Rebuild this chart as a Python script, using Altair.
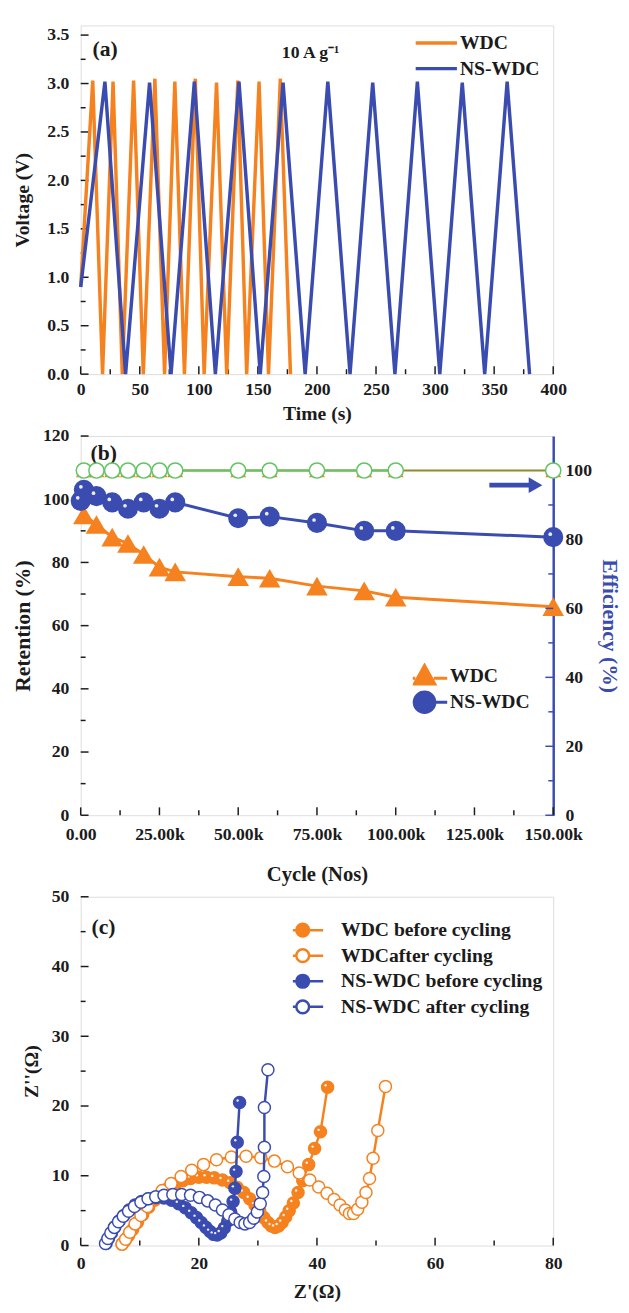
import altair as alt
import pandas as pd

FONT = "Liberation Serif"
INK = "#1b1b1b"
ORANGE = "#F5821F"
BLUE = "#3A4CB0"
GREEN = "#62C462"
OLIVE = "#8F8B2E"

# ---------------- (a) charge / discharge at 10 A g-1 ----------------
wdc_time = [0, 10.2, 18.5, 27.4, 35.2, 44.8, 53.0, 62.8, 71.0, 79.7, 87.8,
            97.0, 104.5, 115.0, 123.6, 133.0, 140.5, 151.0, 159.0, 169.0, 177.6]
wdc_volt = [0.9, 3.03, 0.0, 3.02, 0.0, 3.03, 0.0, 3.05, 0.0, 3.02, 0.0,
            3.05, 0.0, 3.01, 0.0, 3.03, 0.0, 3.02, 0.0, 3.05, 0.0]
ns_time = [0, 20.5, 38.0, 58.3, 76.5, 96.2, 114.0, 134.0, 152.0, 171.3, 190.0,
           209.2, 228.0, 247.2, 266.0, 285.0, 304.0, 323.0, 342.0, 361.0, 380.0]
ns_volt = [0.9, 3.02, 0.0, 3.01, 0.0, 3.02, 0.0, 3.02, 0.0, 3.01, 0.0,
           3.02, 0.0, 3.01, 0.0, 3.02, 0.0, 3.01, 0.0, 3.02, 0.0]

# ---------------- (b) cycling stability ----------------
ret_wdc_cycles = [1000, 5000, 10000, 15000, 20000, 25000, 30000, 50000, 60000, 75000, 90000, 100000, 150000]
ret_wdc = [95.0, 92.0, 88.0, 86.0, 82.5, 78.5, 77.0, 75.5, 75.0, 72.5, 71.0, 69.0, 66.0]
ret_ns_cycles = [0, 1000, 5000, 10000, 15000, 20000, 25000, 30000, 50000, 60000, 75000, 90000, 100000, 150000]
ret_ns = [99.5, 103.0, 101.0, 99.0, 97.0, 99.0, 97.0, 99.0, 94.0, 94.5, 92.5, 90.0, 90.0, 88.0]
eff_cycles = [1000, 5000, 10000, 15000, 20000, 25000, 30000, 50000, 60000, 75000, 90000, 100000, 150000]
eff_wdc = [100, 100, 100, 100, 100, 100, 100, 100, 100, 100, 100, 100, 100]
eff_ns = [100, 100, 100, 100, 100, 100, 100, 100, 100, 100, 100, 100, 100]

# ---------------- (c) Nyquist plots ----------------
wdc_before_re = [7.0, 7.5, 8.1, 8.8, 9.6, 10.5, 11.5, 12.5, 13.6, 14.8, 16.0, 17.3, 18.6, 20.0, 21.3, 22.6,
                 24.0, 25.3, 26.5, 27.6, 28.6, 29.5, 30.3, 31.0, 31.7, 32.3, 32.9, 33.5, 34.1, 34.7, 35.3,
                 36.0, 36.8, 37.6, 38.6, 39.6, 40.6, 41.8]
wdc_before_im = [0.2, 0.7, 1.4, 2.3, 3.3, 4.4, 5.5, 6.5, 7.4, 8.2, 8.8, 9.3, 9.6, 9.8, 9.8, 9.7,
                 9.4, 9.0, 8.3, 7.6, 6.7, 5.8, 4.9, 4.0, 3.3, 2.8, 2.6, 2.8, 3.3, 4.1, 5.0,
                 6.1, 7.6, 9.3, 11.6, 13.9, 16.3, 22.7]
wdc_after_re = [7.0, 7.6, 8.3, 9.2, 10.2, 11.3, 12.5, 13.8, 15.3, 17.0, 18.8, 20.8, 23.0, 25.5, 28.0, 30.5,
                32.8, 35.0, 37.0, 38.8, 40.3, 41.7, 42.9, 43.9, 44.8, 45.5, 46.2, 46.9, 47.6, 48.3, 48.9,
                49.5, 50.3, 51.6]
wdc_after_im = [0.2, 0.9, 1.9, 3.1, 4.3, 5.6, 6.8, 7.9, 8.9, 9.9, 10.8, 11.6, 12.3, 12.7, 12.8, 12.6,
                12.1, 11.3, 10.4, 9.4, 8.4, 7.5, 6.6, 5.8, 5.1, 4.6, 4.6, 5.2, 6.2, 7.6, 9.6,
                12.5, 16.5, 22.8]
ns_before_re = [4.3, 4.7, 5.2, 5.8, 6.5, 7.3, 8.2, 9.2, 10.3, 11.5, 12.8, 14.1, 15.4, 16.6, 17.7, 18.7,
                19.6, 20.4, 21.2, 21.9, 22.5, 23.1, 23.7, 24.3, 24.9, 25.4, 25.8, 26.1, 26.3, 26.5, 26.9]
ns_before_im = [0.3, 1.0, 1.8, 2.7, 3.5, 4.3, 5.1, 5.8, 6.3, 6.7, 6.9, 6.8, 6.5, 6.0, 5.4, 4.7,
                4.0, 3.3, 2.6, 2.0, 1.6, 1.5, 1.8, 2.5, 3.5, 4.8, 6.3, 8.2, 10.6, 14.8, 20.5]
ns_after_re = [4.2, 4.6, 5.1, 5.7, 6.4, 7.2, 8.1, 9.1, 10.2, 11.4, 12.7, 14.1, 15.6, 17.1, 18.6, 20.1,
               21.5, 22.8, 24.0, 25.1, 26.1, 27.0, 27.8, 28.6, 29.3, 29.9, 30.4, 30.8, 31.0, 31.1, 31.1, 31.7]
ns_after_im = [0.3, 1.0, 1.8, 2.6, 3.4, 4.2, 4.9, 5.6, 6.2, 6.7, 7.0, 7.2, 7.3, 7.3, 7.2, 6.9,
               6.4, 5.8, 5.1, 4.4, 3.8, 3.3, 3.1, 3.3, 3.9, 4.8, 6.0, 7.6, 9.9, 14.1, 19.8, 25.2]
c_names = ["WDC before cycling", "WDCafter cycling", "NS-WDC before cycling", "NS-WDC after cycling"]

# tick positions
a_xmaj = [0, 50, 100, 150, 200, 250, 300, 350, 400]
a_xmin = [25, 75, 125, 175, 225, 275, 325, 375]
a_ymaj = [0, 0.5, 1.0, 1.5, 2.0, 2.5, 3.0, 3.5]
a_ymin = [0.25, 0.75, 1.25, 1.75, 2.25, 2.75, 3.25]
b_xmaj = [0, 25000, 50000, 75000, 100000, 125000, 150000]
b_xmin = [12500, 37500, 62500, 87500, 112500, 137500]
b_ymaj = [0, 20, 40, 60, 80, 100, 120]
b_ymin = [10, 30, 50, 70, 90, 110]
b_rmaj = [0, 20, 40, 60, 80, 100]
b_rmin = [10, 30, 50, 70, 90]
c_xmaj = [0, 20, 40, 60, 80]
c_xmin = [10, 30, 50, 70]
c_ymaj = [0, 10, 20, 30, 40, 50]
c_ymin = [5, 15, 25, 35, 45]

W = 481
HA, HB, HC = 355, 386, 355
MAJ, MIN = 8, 5

CIRC_C = "M-3.2,0L-1,0M1,0L3.2,0M1,0A1,1,0,1,1,-1,0A1,1,0,1,1,1,0Z"
CIRC_B = "M-2.2,0L-1,0M1,0L2.2,0M1,0A1,1,0,1,1,-1,0A1,1,0,1,1,1,0Z"
TRI_B = "M-2.2,0.25L-0.9,0.25M0.9,0.25L2.2,0.25M0,-1L1,0.8L-1,0.8Z"

one = pd.DataFrame({"k": [0]})


def ax(**kw):
    base = dict(labelFont=FONT, labelFontSize=18, labelFontWeight="bold", labelColor=INK,
                titleFont=FONT, titleFontSize=20, titleFontWeight="bold", titleColor=INK,
                ticks=False, domain=False, grid=False, labelFlush=False, labelOverlap=False)
    base.update(kw)
    return alt.Axis(**base)


def xticks(vals, scale, axis, H, length, color=INK):
    return alt.Chart(pd.DataFrame({"v": vals})).mark_rule(color=color, strokeWidth=1.5).encode(
        x=alt.X("v:Q", scale=scale, axis=axis), y=alt.value(H), y2=alt.value(H - length))


def yticks(vals, scale, axis, length, color=INK, right=False):
    x0 = W if right else 0
    x1 = W - length if right else length
    return alt.Chart(pd.DataFrame({"v": vals})).mark_rule(color=color, strokeWidth=1.5).encode(
        y=alt.Y("v:Q", scale=scale, axis=axis), x=alt.value(x0), x2=alt.value(x1))


def label(text, x, y, size=22, align="left", color=INK, opacity=1):
    return alt.Chart(one).mark_text(
        text=text, font=FONT, fontSize=size, fontWeight="bold", align=align, baseline="middle",
        color=color, opacity=opacity
    ).encode(x=alt.value(x), y=alt.value(y))


def spacer():
    # invisible glyph that fixes the left extent of every panel so plot areas align
    return label("|", -72, 40, 18, opacity=0)


def leg(**kw):
    base = dict(orient="none", title=None, labelFont=FONT, labelFontSize=20, labelFontWeight="bold",
                labelColor=INK, labelLimit=400)
    base.update(kw)
    return alt.Legend(**base)


# ======================= panel (a) =======================
xa = alt.Scale(domain=[0, 400], nice=False)
ya = alt.Scale(domain=[0, 3.6], nice=False)
a_df = pd.DataFrame({
    "sa": ["WDC"] * len(wdc_time) + ["NS-WDC"] * len(ns_time),
    "t": wdc_time + ns_time,
    "v": wdc_volt + ns_volt,
    "i": list(range(len(wdc_time))) + list(range(len(ns_time))),
})
leg_a = leg(legendX=339, legendY=8, symbolType="stroke", symbolSize=1764, symbolStrokeWidth=3.5,
            labelOffset=1, rowPadding=6, clipHeight=20)
color_a = alt.Color("sa:N", scale=alt.Scale(domain=["WDC", "NS-WDC"], range=[ORANGE, BLUE]), legend=leg_a)
xa_axis = ax(values=a_xmaj, format="d", labelPadding=7, title="Time (s)", titleY=40, titleBaseline="middle")
ya_axis = ax(values=a_ymaj, format=".1f", labelPadding=12, title="Voltage (V)", titleX=-59,
             titleBaseline="middle")

a_lines = []
for s in ["WDC", "NS-WDC"]:
    a_lines.append(
        alt.Chart(a_df).transform_filter(alt.datum.sa == s).mark_line(strokeWidth=3.5).encode(
            x=alt.X("t:Q", scale=xa, axis=xa_axis),
            y=alt.Y("v:Q", scale=ya, axis=ya_axis),
            color=color_a, order="i:Q"))

panel_a = alt.layer(
    xticks(a_xmaj, xa, xa_axis, HA, MAJ), xticks(a_xmin, xa, xa_axis, HA, MIN),
    yticks(a_ymaj, ya, ya_axis, MAJ), yticks(a_ymin, ya, ya_axis, MIN),
    *a_lines,
    label("(a)", 12, 24, 22),
    label("10 A g\u207b\u00b9", 234, 28, 18, align="center"),
    spacer(),
).properties(width=W, height=HA)

# ======================= panel (b) =======================
xb = alt.Scale(domain=[0, 150000], nice=False)
yb = alt.Scale(domain=[0, 120], nice=False)
yr = alt.Scale(domain=[0, 110], nice=False)
ret_df = pd.DataFrame({
    "sb": ["WDC"] * len(ret_wdc) + ["NS-WDC"] * len(ret_ns),
    "c": ret_wdc_cycles + ret_ns_cycles,
    "r": ret_wdc + ret_ns,
})
eff_df = pd.DataFrame({
    "sb": ["WDC"] * len(eff_wdc) + ["NS-WDC"] * len(eff_ns),
    "c": eff_cycles + eff_cycles,
    "e": eff_wdc + eff_ns,
})
xb_axis = ax(values=b_xmaj, labelExpr="datum.value == 0 ? '0.00' : format(datum.value / 1000, '.2f') + 'k'",
             labelPadding=11, title="Cycle (Nos)", titleY=60, titleBaseline="middle", titleFontSize=21)
yb_axis = ax(values=b_ymaj, format="d", labelPadding=12, title="Retention (%)", titleX=-59,
             titleBaseline="middle", titleFontSize=22)
yr_axis = ax(values=b_rmaj, format="d", orient="right", labelPadding=12, title="Efficiency (%)",
             titleX=57, titleBaseline="middle", titleColor=BLUE, titleFontSize=22,
             domain=True, domainColor=BLUE, domainWidth=2.5)

bx = alt.X("c:Q", scale=xb, axis=xb_axis)
ry = alt.Y("r:Q", scale=yb, axis=yb_axis)
ey = alt.Y("e:Q", scale=yr, axis=yr_axis)

ret_w = alt.Chart(ret_df).transform_filter(alt.datum.sb == "WDC")
ret_n = alt.Chart(ret_df).transform_filter(alt.datum.sb == "NS-WDC")
ret_line_w = ret_w.mark_line(color=ORANGE, strokeWidth=3).encode(x=bx, y=ry)
ret_line_n = ret_n.mark_line(color=BLUE, strokeWidth=3).encode(x=bx, y=ry)
ret_tri = ret_w.mark_point(shape="triangle-up", size=480, filled=True, color=ORANGE, opacity=1).encode(x=bx, y=ry)
ret_sph = ret_n.mark_point(shape="circle", size=420, filled=True, color=BLUE, opacity=1).encode(x=bx, y=ry)
ret_hl = ret_n.mark_point(shape="circle", size=14, filled=True, color="white", opacity=0.9).encode(
    x=bx, y=ry, xOffset=alt.value(-3), yOffset=alt.value(-3))
leg_b = leg(legendX=338, legendY=231, symbolSize=441, symbolStrokeWidth=3, labelOffset=14,
            rowPadding=1, clipHeight=26)
dom_b = ["WDC", "NS-WDC"]
ret_leg = alt.Chart(ret_df).transform_filter("false").mark_point(
    filled=True, strokeWidth=3, opacity=1, size=441).encode(
    x=bx, y=ry,
    fill=alt.Fill("sb:N", scale=alt.Scale(domain=dom_b, range=[ORANGE, BLUE]), legend=leg_b),
    stroke=alt.Stroke("sb:N", scale=alt.Scale(domain=dom_b, range=[ORANGE, BLUE]), legend=leg_b),
    shape=alt.Shape("sb:N", scale=alt.Scale(domain=dom_b, range=[TRI_B, CIRC_B]), legend=leg_b),
)
arrow_shaft = alt.Chart(one).mark_rule(color=BLUE, strokeWidth=5).encode(
    x=alt.value(416), x2=alt.value(458), y=alt.value(50))
arrow_head = alt.Chart(one).mark_point(shape="triangle-right", size=260, filled=True, color=BLUE,
                                       opacity=1).encode(x=alt.value(463), y=alt.value(50))

left_b = alt.layer(
    xticks(b_xmaj, xb, xb_axis, HB, MAJ), xticks(b_xmin, xb, xb_axis, HB, MIN),
    yticks(b_ymaj, yb, yb_axis, MAJ), yticks(b_ymin, yb, yb_axis, MIN),
    ret_line_w, ret_line_n, ret_tri, ret_sph, ret_hl, ret_leg,
    arrow_shaft, arrow_head, label("(b)", 10, 17, 22), spacer(),
)

eff_w = alt.Chart(eff_df).transform_filter(alt.datum.sb == "WDC")
eff_n = alt.Chart(eff_df).transform_filter(alt.datum.sb == "NS-WDC")
eff_line_w = eff_w.mark_line(color=OLIVE, strokeWidth=2).encode(x=bx, y=ey)
eff_line_n = alt.Chart(eff_df).transform_filter("datum.sb == 'NS-WDC' && datum.c <= 100000").mark_line(
    color=GREEN, strokeWidth=2).encode(x=bx, y=ey)
eff_tri = eff_w.mark_point(shape="triangle-up", size=260, filled=True, color=ORANGE, opacity=1).encode(x=bx, y=ey)
eff_circ = eff_n.mark_point(shape="circle", size=240, filled=True, fill="white", stroke=GREEN,
                            strokeWidth=1.5, opacity=1).encode(x=bx, y=ey)
right_b = alt.layer(
    yticks(b_rmaj, yr, yr_axis, MAJ, color=BLUE, right=True),
    yticks(b_rmin, yr, yr_axis, MIN, color=BLUE, right=True),
    eff_line_w, eff_line_n, eff_tri, eff_circ,
)
panel_b = alt.layer(left_b, right_b).resolve_scale(y="independent").properties(width=W, height=HB)

# ======================= panel (c) =======================
xc = alt.Scale(domain=[0, 80], nice=False)
yc = alt.Scale(domain=[0, 50], nice=False)
c_re = [wdc_before_re, wdc_after_re, ns_before_re, ns_after_re]
c_im = [wdc_before_im, wdc_after_im, ns_before_im, ns_after_im]
rows = []
for name, re_, im_ in zip(c_names, c_re, c_im):
    for i, (p, q) in enumerate(zip(re_, im_)):
        rows.append({"sc": name, "zr": p, "zi": q, "i": i})
c_df = pd.DataFrame(rows)
xc_axis = ax(values=c_xmaj, format="d", labelPadding=9, title="Z'(\u03a9)", titleY=47, titleBaseline="middle")
yc_axis = ax(values=c_ymaj, format="d", labelPadding=12, title="Z''(\u03a9)", titleX=-50, titleBaseline="middle")
cx = alt.X("zr:Q", scale=xc, axis=xc_axis)
cy = alt.Y("zi:Q", scale=yc, axis=yc_axis)
c_colors = [ORANGE, ORANGE, BLUE, BLUE]
c_filled = [True, False, True, False]
c_layers = []
for name, col, filled in zip(c_names, c_colors, c_filled):
    base = alt.Chart(c_df).transform_filter(alt.datum.sc == name)
    c_layers.append(base.mark_line(color=col, strokeWidth=2.5).encode(x=cx, y=cy, order="i:Q"))
    c_layers.append(base.mark_point(shape="circle", size=150, filled=True, fill=col if filled else "white",
                                    stroke=col, strokeWidth=1.5, opacity=1).encode(x=cx, y=cy))
    if filled:
        c_layers.append(base.mark_point(shape="circle", size=6, filled=True, color="white", opacity=0.9).encode(
            x=cx, y=cy, xOffset=alt.value(-2), yOffset=alt.value(-2)))
leg_c = leg(legendX=216, legendY=24, symbolSize=169, symbolStrokeWidth=2.5, labelOffset=29,
            rowPadding=6, clipHeight=20)
c_leg = alt.Chart(c_df).transform_filter("false").mark_point(
    filled=True, strokeWidth=2.5, opacity=1, size=169).encode(
    x=cx, y=cy,
    fill=alt.Fill("sc:N", scale=alt.Scale(domain=c_names, range=[ORANGE, "white", BLUE, "white"]), legend=leg_c),
    stroke=alt.Stroke("sc:N", scale=alt.Scale(domain=c_names, range=[ORANGE, ORANGE, BLUE, BLUE]), legend=leg_c),
    shape=alt.Shape("sc:N", scale=alt.Scale(domain=c_names, range=[CIRC_C] * 4), legend=leg_c),
)
panel_c = alt.layer(
    xticks(c_xmaj, xc, xc_axis, HC, MAJ), xticks(c_xmin, xc, xc_axis, HC, MIN),
    yticks(c_ymaj, yc, yc_axis, MAJ), yticks(c_ymin, yc, yc_axis, MIN),
    *c_layers, c_leg, label("(c)", 11, 31, 22), spacer(),
).properties(width=W, height=HC)

chart = alt.vconcat(panel_a, panel_b, panel_c, spacing=2).resolve_scale(
    color="independent", fill="independent", stroke="independent", shape="independent"
).properties(
    padding={"left": 1, "top": 5, "right": 0, "bottom": 0}
).configure_view(stroke=INK, strokeWidth=2).configure(background="white")

chart.save("out.html", embed_options={"renderer": "svg", "actions": False})
